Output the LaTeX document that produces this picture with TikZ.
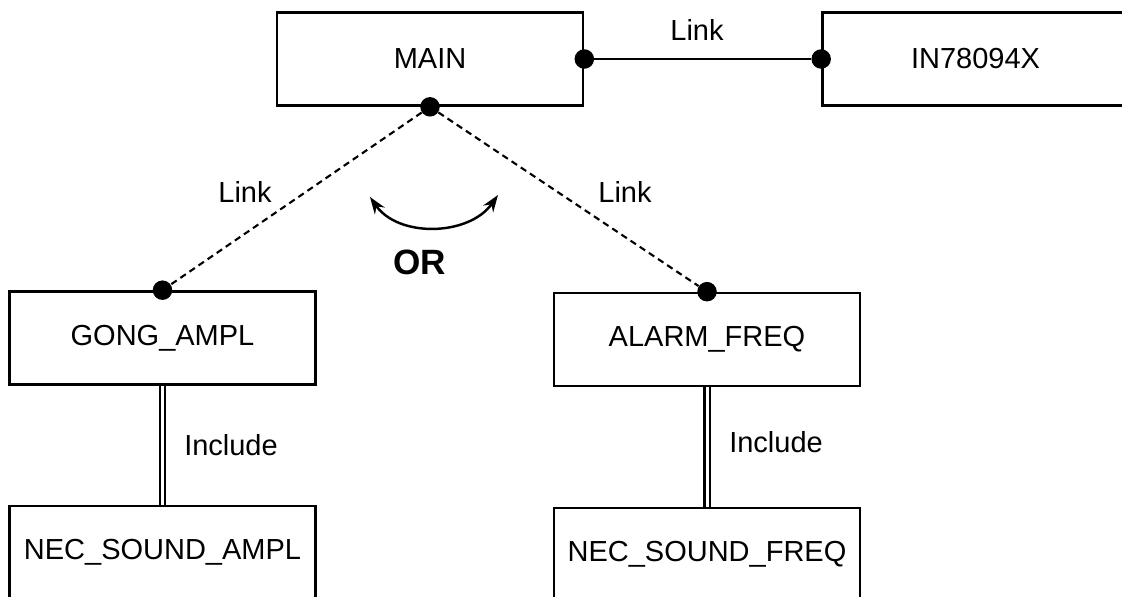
\documentclass[tikz,border=0pt]{standalone}
\usepackage{fontspec}
\setmainfont{Liberation Sans}
\usetikzlibrary{arrows.meta}
\tikzset{
	block/.style={draw, line width=1.5pt, minimum width=6.12cm, minimum height=1.86cm, font=\fontsize{16.5}{19}\selectfont},
	dot/.style={circle, fill, inner sep=0pt, minimum size=0.39cm},
	lbl/.style={font=\fontsize{16.5}{19}\selectfont},
	link/.style={line width=1.2pt},
	orlink/.style={line width=1.2pt, dash pattern=on 0.13cm off 0.09cm},
	incl/.style={double, double distance=0.06cm, line width=0.045cm},
}

\begin{document}
\begin{tikzpicture}
	\clip (0,0) rectangle (22.44,-11.92);
	\node[block] (main) at (8.6,-1.18) {MAIN};
	\node[block] (in) at (19.51,-1.18) {IN78094X};
	\node[block] (gong) at (3.25,-6.76) {GONG\_AMPL};
	\node[block] (alarm) at (14.14,-6.79) {ALARM\_FREQ};
	\node[block] (necampl) at (3.25,-11.05) {NEC\_SOUND\_AMPL};
	\node[block] (necfreq) at (14.14,-11.09) {NEC\_SOUND\_FREQ};
	\node[dot] (mainE) at (main.east) {};
	\node[dot] (inW) at (in.west) {};
	\node[dot] (mainS) at (main.south) {};
	\node[dot] (gongN) at (gong.north) {};
	\node[dot] (alarmN) at (alarm.north) {};
	\draw[link] (mainE) -- (inW);
	\draw[orlink] (mainS) -- (gongN);
	\draw[orlink] (mainS) -- (alarmN);
	\draw[incl] (gong) -- (necampl);
	\draw[incl] (alarm) -- (necfreq);
	\node[lbl] (linktop) at (13.94,-0.6) {Link};
	\node[lbl] (linkl) at (4.9,-3.84) {Link};
	\node[lbl] (linkr) at (12.5,-3.84) {Link};
	\node[lbl] (incll) at (4.62,-8.9) {Include};
	\node[lbl] (inclr) at (15.52,-8.84) {Include};
	\coordinate (orl) at (7.4,-3.94);
	\coordinate (orr) at (9.96,-3.9);
	\draw[line width=1.4pt, {Stealth[length=0.34cm,width=0.24cm]}-{Stealth[length=0.34cm,width=0.24cm]}] (orl) to[out=-55, in=-125] (orr);
	\node[font=\fontsize{20}{24}\selectfont\bfseries] (or) at (8.4,-5.24) {OR};
\end{tikzpicture}
\end{document}
